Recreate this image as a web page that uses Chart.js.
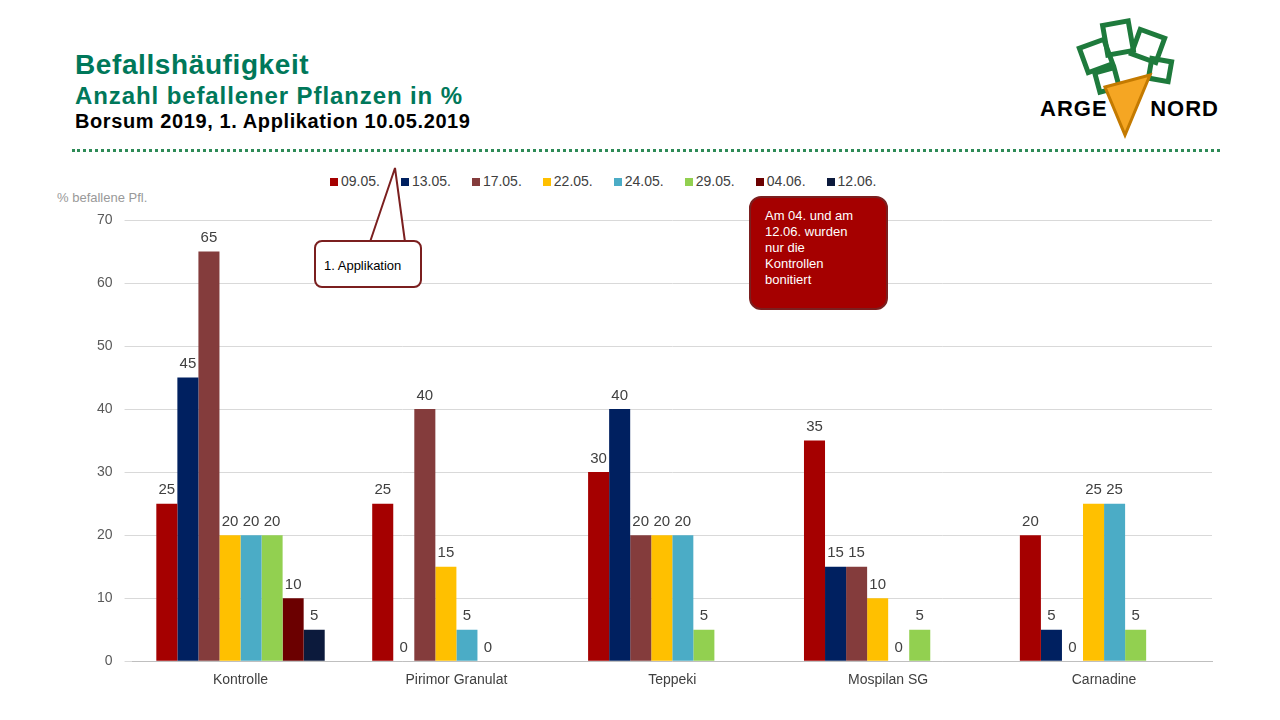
<!DOCTYPE html>
<html lang="de">
<head>
<meta charset="utf-8">
<title>Befallshäufigkeit</title>
<script src="https://cdn.jsdelivr.net/npm/chart.js@4"></script>
<style>
  body { margin: 0; width: 1280px; height: 720px; background: #fff; font-family: "Liberation Sans", Arial, sans-serif; position: relative; overflow: hidden; }
  canvas { position: absolute; left: 0; top: 0; }
  .t { position: absolute; left: 75px; font-weight: bold; line-height: 1; }
  #t1 { top: 51px; font-size: 28px; color: #00785A; letter-spacing: 0.6px; }
  #t2 { top: 84px; font-size: 24px; color: #00785A; letter-spacing: 0.9px; }
  #t3 { top: 111px; font-size: 20px; color: #000; letter-spacing: 0.6px; }
  #rule { position: absolute; left: 72px; top: 149px; width: 1148px; border-top: 3px dotted #2E8B57; }
  #ylab { position: absolute; left: 57px; top: 190px; font-size: 13px; color: #999; }
  #legend { position: absolute; left: 330px; top: 173px; font-size: 14px; color: #404040; display: flex; gap: 21px; }
  #legend span i { display: inline-block; width: 8px; height: 8px; margin-right: 3px; }
  .box { position: absolute; font-size: 13px; }
  #b1 { left: 314px; top: 240px; width: 108px; height: 48px; border: 2px solid #7B1F1F; border-radius: 8px; background: #fff; box-sizing: border-box; padding: 16px 8px; color: #000; }
  #b2 { left: 749px; top: 196px; width: 139px; height: 114px; border: 2px solid #7B1F1F; border-radius: 12px; background: #A50000; box-sizing: border-box; padding: 10px 30px 0 14px; color: #fff; line-height: 16px; }
  #logo { position: absolute; left: 1040px; top: 96px; font-size: 22px; font-weight: 900; color: #000; letter-spacing: 1px; }
</style>
</head>
<body>
<div class="t" id="t1">Befallshäufigkeit</div>
<div class="t" id="t2">Anzahl befallener Pflanzen in %</div>
<div class="t" id="t3">Borsum 2019, 1. Applikation 10.05.2019</div>
<div id="rule"></div>
<svg style="position:absolute;left:1075px;top:15px" width="100" height="125">
  <g fill="none" stroke="#1E7A3C" stroke-width="5">
    <rect x="8" y="28" width="26" height="26" transform="rotate(-20 21 41)"/>
    <rect x="30" y="8" width="26" height="30" transform="rotate(-10 43 23)"/>
    <rect x="60" y="18" width="26" height="26" transform="rotate(20 73 31)"/>
    <rect x="75" y="45" width="20" height="20" transform="rotate(10 85 55)"/>
    <rect x="22" y="55" width="20" height="20" transform="rotate(-15 32 65)"/>
  </g>
  <path d="M30 72 L75 60 L50 120 Z" fill="#F5A623" stroke="#C47A00" stroke-width="3"/>
</svg>
<div id="logo">ARGE&nbsp;&nbsp;&nbsp;&nbsp;&nbsp;&nbsp;NORD</div>
<div id="ylab">% befallene Pfl.</div>
<div id="legend"></div>
<canvas id="c" width="1280" height="720"></canvas>
<svg style="position:absolute;left:0;top:0" width="1280" height="720">
  <path d="M370 242 L395 168 L405 242" fill="#fff" stroke="#7B1F1F" stroke-width="2"/>
</svg>
<div class="box" id="b1">1. Applikation</div>
<div class="box" id="b2">Am 04. und am 12.06. wurden nur die Kontrollen bonitiert</div>
<script>
const CATEGORIES = ['Kontrolle', 'Pirimor Granulat', 'Teppeki', 'Mospilan SG', 'Carnadine'];
const DATES = ['09.05.', '13.05.', '17.05.', '22.05.', '24.05.', '29.05.', '04.06.', '12.06.'];
const COLORS = ['#A50000', '#002060', '#843C3C', '#FFC000', '#4BACC6', '#92D050', '#6B0000', '#0C1A3C'];
const V_0905 = [25, 25, 30, 35, 20];
const V_1305 = [45, 0, 40, 15, 5];
const V_1705 = [65, 40, 20, 15, 0];
const V_2205 = [20, 15, 20, 10, 25];
const V_2405 = [20, 5, 20, 0, 25];
const V_2905 = [20, 0, 5, 5, 5];
const V_0406 = [10, null, null, null, null];
const V_1206 = [5, null, null, null, null];
const SERIES = [V_0905, V_1305, V_1705, V_2205, V_2405, V_2905, V_0406, V_1206];

document.getElementById('legend').innerHTML = DATES.map((d, i) =>
  '<span><i style="background:' + COLORS[i] + '"></i>' + d + '</span>').join('');

// Werte über den Balken
const labels = {
  id: 'labels',
  afterDatasetsDraw(chart) {
    const ctx = chart.ctx;
    ctx.save();
    ctx.font = '15px "Liberation Sans", Arial';
    ctx.fillStyle = '#404040';
    ctx.textAlign = 'center';
    ctx.textBaseline = 'bottom';
    chart.data.datasets.forEach((ds, i) => {
      chart.getDatasetMeta(i).data.forEach((bar, j) => {
        if (ds.data[j] == null) return;
        ctx.fillText(ds.data[j], bar.x, bar.y - 6);
      });
    });
    ctx.restore();
  }
};

new Chart(document.getElementById('c'), {
  type: 'bar',
  data: {
    labels: CATEGORIES,
    datasets: SERIES.map((d, i) => ({ label: DATES[i], data: d, backgroundColor: COLORS[i], barPercentage: 1, categoryPercentage: 0.78 })),
  },
  options: {
    responsive: false, animation: false,
    layout: { padding: { top: 220, left: 85, right: 68, bottom: 28 } },
    plugins: { legend: { display: false }, tooltip: { enabled: false } },
    scales: {
      x: { grid: { display: false }, border: { color: '#BFBFBF' },
           ticks: { color: '#404040', font: { size: 14, family: 'Liberation Sans' } } },
      y: { min: 0, max: 70, ticks: { stepSize: 10, color: '#595959', padding: 12, font: { size: 14, family: 'Liberation Sans' } },
           grid: { color: '#D9D9D9' }, border: { display: false } },
    },
  },
  plugins: [labels],
});
</script>
</body>
</html>
